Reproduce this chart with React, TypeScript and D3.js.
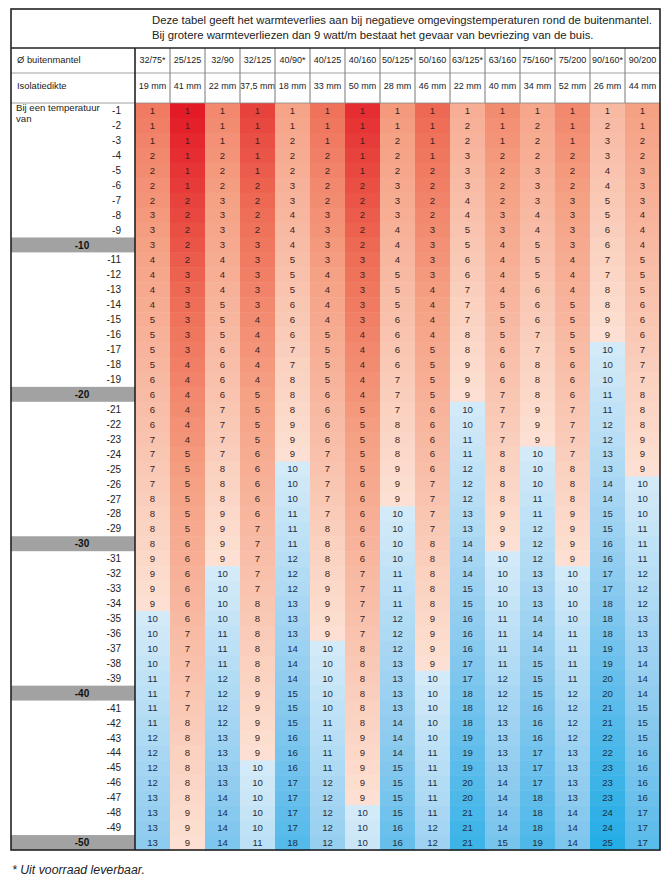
import React from "react";
import * as d3 from "d3";

// kolommen
const diameters = ["32/75*", "25/125", "32/90", "32/125", "40/90*", "40/125", "40/160", "50/125*", "50/160", "63/125*", "63/160", "75/160*", "75/200", "90/160*", "90/200"];
const thickness = ["19 mm", "41 mm", "22 mm", "37,5 mm", "18 mm", "33 mm", "50 mm", "28 mm", "46 mm", "22 mm", "40 mm", "34 mm", "52 mm", "26 mm", "44 mm"];

// temperaturen -1 .. -50
const temps = d3.range(-1, -51, -1);

// warmteverlies in watt/m per kolom, van -1 tot -50
const v32_75 = [1,1,1,2,2,2,2,3,3,3,4,4,4, 4,5,5,5,5,6,6,6,6,7,7,7,7, 8,8,8,8,9,9,9,9,10,10,10,10,11, 11,11,11,12,12,12,12,13,13,13,13];
const v25_125 = [1,1,1,1,1,1,2,2,2,2,2,3,3, 3,3,3,3,4,4,4,4,4,4,5,5,5, 5,5,5,6,6,6,6,6,6,7,7,7,7, 7,7,8,8,8,8,8,8,9,9,9];
const v32_90 = [1,1,1,2,2,2,3,3,3,3,4,4,4, 5,5,5,6,6,6,6,7,7,7,7,8,8, 8,9,9,9,9,10,10,10,10,11,11,11,12, 12,12,12,13,13,13,13,14,14,14,14];
const v32_125 = [1,1,1,1,1,2,2,2,2,3,3,3,3, 3,4,4,4,4,4,5,5,5,5,6,6,6, 6,6,7,7,7,7,7,8,8,8,8,8,8, 9,9,9,9,9,10,10,10,10,10,11];
const v40_90 = [1,1,2,2,2,3,3,4,4,4,5,5,5, 6,6,6,7,7,8,8,8,9,9,9,10,10, 10,11,11,11,12,12,12,13,13,13,14,14,14, 15,15,15,16,16,16,17,17,17,17,18];
const v40_125 = [1,1,1,2,2,2,2,3,3,3,3,4,4, 4,4,5,5,5,5,6,6,6,6,7,7,7, 7,7,8,8,8,8,9,9,9,9,10,10,10, 10,10,11,11,11,11,12,12,12,12,12];
const v40_160 = [1,1,1,1,1,2,2,2,2,2,3,3,3, 3,3,4,4,4,4,4,5,5,5,5,5,6, 6,6,6,6,6,7,7,7,7,7,8,8,8, 8,8,8,9,9,9,9,9,10,10,10];
const v50_125 = [1,1,2,2,2,3,3,3,4,4,4,5,5, 5,6,6,6,6,7,7,7,8,8,8,9,9, 9,10,10,10,10,11,11,11,12,12,12,13,13, 13,13,14,14,14,15,15,15,15,16,16];
const v50_160 = [1,1,1,1,2,2,2,2,3,3,3,3,4, 4,4,4,5,5,5,5,6,6,6,6,6,7, 7,7,7,8,8,8,8,8,9,9,9,9,10, 10,10,10,10,11,11,11,11,11,12,12];
const v63_125 = [1,2,2,3,3,3,4,4,5,5,6,6,7, 7,7,8,8,9,9,9,10,10,11,11,12,12, 12,13,13,14,14,14,15,15,16,16,16,17,17, 18,18,18,19,19,19,20,20,21,21,21];
const v63_160 = [1,1,1,2,2,2,2,3,3,4,4,4,4, 5,5,5,6,6,6,7,7,7,7,8,8,8, 8,9,9,9,10,10,10,10,11,11,11,11,12, 12,12,13,13,13,13,14,14,14,14,15];
const v75_160 = [1,2,2,2,3,3,3,4,4,5,5,5,6, 6,6,7,7,8,8,8,9,9,9,10,10,10, 11,11,12,12,12,13,13,13,14,14,14,15,15, 15,16,16,16,17,17,17,18,18,18,19];
const v75_200 = [1,1,1,2,2,2,3,3,3,3,4,4,4, 5,5,5,5,6,6,6,7,7,7,7,8,8, 8,9,9,9,9,10,10,10,10,11,11,11,11, 12,12,12,12,13,13,13,13,14,14,14];
const v90_160 = [1,2,3,3,4,4,5,5,6,6,7,7,8, 8,9,9,10,10,10,11,11,12,12,13,13,14, 14,15,15,16,16,17,17,18,18,18,19,19,20, 20,21,21,22,22,23,23,23,24,24,25];
const v90_200 = [1,1,2,2,3,3,3,4,4,4,5,5,5, 6,6,6,7,7,7,8,8,8,9,9,9,10, 10,10,11,11,11,12,12,12,13,13,13,14,14, 14,15,15,15,16,16,16,16,17,17,17];

const series = [v32_75, v25_125, v32_90, v32_125, v40_90, v40_125, v40_160, v50_125, v50_160, v63_125, v63_160, v75_160, v75_200, v90_160, v90_200];

const LIMIT = 10; // vanaf 10 watt/m: gevaar van bevriezing
const FONT = "'Liberation Sans', Arial, Helvetica, sans-serif";

const App = () => {
  const W = 671, H = 884;
  const left = 11, right = 660, top = 9, mid = 135;
  const headBottom = 48, row1 = 73, dataTop = 103, dataBottom = 850;

  const x = d3.scaleBand().domain(diameters).range([mid, right]);
  const y = d3.scaleBand<number>().domain(temps).range([dataTop, dataBottom]);

  const redColor = d3.scaleLinear<string>()
    .domain([0, 0.5, 0.75, 1])
    .range(["#fde3d6", "#f5a184", "#ee6c55", "#e31b27"]);
  const blueColor = d3.scaleLinear<string>()
    .domain([0, 0.5, 1])
    .range(["#d3eaf8", "#86c8ee", "#25ade6"]);

  const cells: any[] = [];
  series.forEach((vals, c) => {
    let thr = vals.findIndex(v => v >= LIMIT);
    if (thr < 0) thr = vals.length;
    vals.forEach((v, i) => {
      const fill = v < LIMIT
        ? redColor((thr - i) / 50)
        : blueColor((i - thr) / 33);
      cells.push({ c: diameters[c], t: temps[i], v, fill });
    });
  });

  const bw = x.bandwidth();
  const bh = y.bandwidth();

  return (
    <div style={{ position: "absolute", left: 0, top: 0 }}>
      <svg width={W} height={H} style={{ display: "block", background: "#fff" }} fontFamily={FONT}>
        {/* kop */}
        <text x={152} y={24} fontSize={11.3} fill="#222">
          Deze tabel geeft het warmteverlies aan bij negatieve omgevingstemperaturen rond de buitenmantel.
        </text>
        <text x={152} y={39} fontSize={11.3} fill="#222">
          Bij grotere warmteverliezen dan 9 watt/m bestaat het gevaar van bevriezing van de buis.
        </text>

        {/* cellen */}
        {cells.map((d, k) => (
          <rect key={k} x={x(d.c)} y={y(d.t)} width={bw + 0.5} height={bh + 0.5} fill={d.fill} />
        ))}
        {cells.map((d, k) => (
          <text key={"t" + k} x={x(d.c)! + bw / 2} y={y(d.t)! + bh / 2 + 3.4} fontSize={9.6}
            textAnchor="middle" fill={d.v < LIMIT ? "#3a2420" : "#1d2f45"}>{d.v}</text>
        ))}

        {/* grijze banden elke 10 graden */}
        {temps.filter(t => t % 10 === 0).map(t => (
          <g key={"b" + t}>
            <rect x={left} y={y(t)} width={mid - left} height={bh} fill="#a2a2a2" />
            <text x={82} y={y(t)! + bh / 2 + 3.6} fontSize={10} fontWeight="bold" textAnchor="middle" fill="#111">{t}</text>
          </g>
        ))}
        {temps.filter(t => t % 10 !== 0).map(t => (
          <text key={"l" + t} x={121} y={y(t)! + bh / 2 + 3.6} fontSize={10} textAnchor="end" fill="#222">{t}</text>
        ))}
        <text x={16} y={y(-1)! + bh / 2 + 1} fontSize={9.6} fill="#222">Bij een temperatuur</text>
        <text x={16} y={y(-1)! + bh / 2 + 12} fontSize={9.6} fill="#222">van</text>

        {/* kolomkoppen */}
        <text x={17} y={63} fontSize={9.4} fill="#222">Ø buitenmantel</text>
        <text x={17} y={89} fontSize={9.4} fill="#222">Isolatiedikte</text>
        {diameters.map((d, i) => (
          <g key={"h" + d}>
            <text x={x(d)! + bw / 2} y={63} fontSize={9} textAnchor="middle" fill="#222">{d}</text>
            <text x={x(d)! + bw / 2} y={89} fontSize={9} textAnchor="middle" fill="#222">{thickness[i]}</text>
            {i > 0 && <line x1={x(d)} x2={x(d)} y1={headBottom} y2={dataTop} stroke="#777" strokeWidth={1} />}
          </g>
        ))}
        <line x1={left} x2={right} y1={row1} y2={row1} stroke="#888" strokeWidth={0.8} />
        <line x1={left} x2={right} y1={dataTop} y2={dataTop} stroke="#888" strokeWidth={0.8} />

        {/* randen */}
        <rect x={left} y={top} width={right - left} height={dataBottom - top} fill="none" stroke="#222" strokeWidth={1.6} />
        <line x1={left} x2={right} y1={headBottom} y2={headBottom} stroke="#222" strokeWidth={1.6} />
        <line x1={mid} x2={mid} y1={headBottom} y2={dataBottom} stroke="#222" strokeWidth={1.6} />

        <text x={12} y={874} fontSize={12.3} fontStyle="italic" fill="#222">* Uit voorraad leverbaar.</text>
      </svg>
    </div>
  );
};

export default App;
